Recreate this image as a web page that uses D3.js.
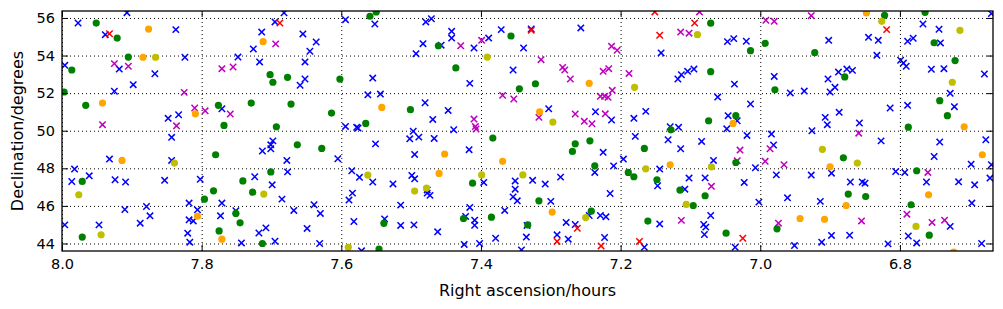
<!DOCTYPE html>
<html lang="en">
<head>
<meta charset="utf-8">
<title>D3: star field scatter</title>
<script src="https://d3js.org/d3.v7.min.js"></script>
<style>
  body { margin: 0; background: #fff; }
  text { font-family: "DejaVu Sans", sans-serif; }
  .grid line { stroke: #000; stroke-dasharray: 1,3; stroke-width: 1; }
  .grid path { display: none; }
</style>
</head>
<body>
<script>
// each series: [right ascension (hours), declination (degrees)]
var blueStars = [
  [7.907,56.28],[7.977,55.73],[7.938,55.11],[7.837,55.38],[7.824,53.91],[7.996,53.48],[7.918,53.28],[7.867,53.03],
  [7.898,52.45],[7.925,52.10],[7.833,50.85],[7.848,50.66],[7.682,56.27],[7.695,55.79],[7.594,55.91],[7.714,55.25],
  [7.655,55.15],[7.636,54.72],[7.726,54.35],[7.645,54.23],[7.748,53.92],[7.717,53.66],[7.652,53.66],[7.652,52.75],
  [7.659,52.42],[7.562,51.91],[7.771,51.17],[7.594,50.23],[7.578,50.18],[7.576,50.14],[7.552,55.68],[7.479,55.79],
  [7.471,55.96],[7.442,55.29],[7.442,54.93],[7.483,54.63],[7.457,54.55],[7.410,54.40],[7.493,54.10],[7.389,54.93],
  [7.371,55.38],[7.339,54.40],[7.354,53.23],[7.555,52.80],[7.416,52.52],[7.544,51.95],[7.480,51.49],[7.447,51.08],
  [7.469,50.60],[7.439,50.05],[7.328,55.41],[7.257,55.47],[7.142,54.14],[7.113,52.98],[7.118,52.75],[7.303,51.17],
  [7.236,51.01],[7.213,50.57],[7.181,50.66],[7.164,51.03],[7.129,50.21],[7.117,50.18],[7.047,54.74],[7.038,54.90],
  [7.020,54.76],[6.902,54.81],[7.104,53.16],[7.095,53.28],[7.037,52.48],[6.980,52.89],[6.957,52.01],[6.937,52.11],
  [6.903,52.75],[6.893,52.31],[6.900,52.06],[7.061,51.79],[7.014,51.42],[7.046,50.80],[7.033,50.53],[7.048,50.10],
  [6.907,50.71],[6.904,50.32],[6.767,55.68],[6.744,55.40],[6.669,56.23],[6.845,54.97],[6.831,54.81],[6.789,54.76],
  [6.781,54.92],[6.742,54.67],[6.833,54.01],[6.799,53.75],[6.795,53.60],[6.791,53.43],[6.888,53.12],[6.876,53.28],
  [6.868,53.21],[6.755,53.27],[6.737,53.30],[6.679,53.02],[6.728,51.99],[6.722,51.28],[6.887,50.98],[6.814,51.21],
  [6.789,51.35],[6.858,50.41],[7.982,47.96],[7.986,47.30],[7.961,47.60],[7.932,48.49],[7.843,49.65],[7.843,48.42],
  [7.924,47.39],[7.909,47.27],[7.853,47.36],[7.802,47.42],[7.818,46.15],[7.806,45.79],[7.818,45.26],[7.812,45.20],
  [7.820,44.55],[7.817,44.07],[7.910,45.81],[7.879,45.97],[7.874,45.47],[7.888,45.08],[7.996,44.99],[7.947,44.99],
  [7.698,49.46],[7.701,49.25],[7.701,49.04],[7.713,48.92],[7.678,48.42],[7.605,48.51],[7.677,47.81],[7.724,47.55],
  [7.699,47.12],[7.685,46.36],[7.771,46.15],[7.751,45.74],[7.773,45.47],[7.668,45.76],[7.639,46.06],[7.630,45.60],
  [7.649,44.80],[7.708,44.83],[7.718,44.56],[7.743,44.03],[7.695,44.12],[7.631,44.00],[7.585,47.87],[7.574,47.52],
  [7.584,46.68],[7.589,46.31],[7.582,45.17],[7.571,43.61],[7.551,49.30],[7.497,49.97],[7.502,49.57],[7.489,49.66],
  [7.467,49.59],[7.495,48.74],[7.417,48.99],[7.555,47.27],[7.526,47.17],[7.499,47.62],[7.495,47.44],[7.396,47.25],
  [7.477,46.85],[7.477,46.68],[7.473,46.56],[7.351,47.33],[7.351,46.89],[7.354,46.48],[7.348,46.27],[7.515,46.04],
  [7.538,45.31],[7.515,44.96],[7.496,44.99],[7.462,44.62],[7.416,45.92],[7.422,45.44],[7.409,45.24],[7.409,44.97],
  [7.366,45.76],[7.379,44.28],[7.424,43.95],[7.402,44.00],[7.335,44.34],[7.342,43.66],[7.225,48.85],[7.210,48.13],
  [7.237,47.78],[7.196,48.49],[7.179,49.70],[7.132,49.52],[7.114,49.04],[7.326,47.36],[7.308,47.16],[7.286,47.53],
  [7.144,47.96],[7.147,47.07],[7.215,46.66],[7.300,46.24],[7.245,45.49],[7.229,45.49],[7.221,45.42],[7.144,45.04],
  [7.334,44.96],[7.278,45.12],[7.265,45.01],[7.291,44.46],[7.275,44.23],[7.223,44.32],[7.166,43.80],[7.019,49.75],
  [6.984,49.82],[6.926,50.00],[7.084,49.43],[6.981,49.24],[7.067,48.42],[7.007,48.03],[6.898,47.74],[6.977,47.65],
  [6.927,47.64],[7.102,47.48],[7.079,47.49],[7.108,46.89],[7.023,47.25],[7.002,46.20],[6.961,46.43],[6.914,46.24],
  [7.071,45.49],[7.081,45.01],[7.078,44.87],[7.080,44.48],[7.036,43.80],[6.898,44.43],[6.912,44.07],[6.951,43.89],
  [6.827,49.46],[6.743,49.40],[6.677,49.52],[6.751,48.63],[6.698,48.22],[6.669,48.19],[6.806,47.83],[6.793,47.78],
  [6.871,47.27],[6.854,47.27],[6.850,47.21],[6.762,47.27],[6.716,47.28],[6.693,47.12],[6.671,47.48],[6.697,46.15],
  [6.728,44.91],[6.872,44.44],[6.788,44.40],[6.776,44.03],[6.817,43.98],[6.683,44.00]
];
var redStars = [
  [7.932,55.16],[7.688,55.73],[7.328,55.35],[7.151,56.32],[7.144,55.08],[7.094,55.73],[6.819,55.38],
  [7.262,44.81],[7.291,44.11],[7.228,43.87],[7.173,44.11],[7.025,44.28]
];
var magentaStars = [
  [7.925,53.57],[7.905,53.43],[7.825,52.04],[7.810,51.21],[7.795,51.06],[7.942,50.32],[7.836,50.26],[7.771,53.30],
  [7.755,53.39],[7.694,54.62],[7.759,50.89],[7.429,54.52],[7.399,54.81],[7.369,51.88],[7.353,51.69],[7.410,50.62],
  [7.408,50.22],[7.407,50.09],[7.314,53.78],[7.283,53.37],[7.280,53.23],[7.272,52.75],[7.213,54.49],[7.205,54.28],
  [7.225,53.16],[7.217,53.30],[7.212,52.15],[7.229,51.83],[7.223,51.83],[7.218,51.78],[7.188,53.05],[7.114,55.25],
  [7.317,50.71],[7.265,50.89],[7.252,50.50],[7.241,50.37],[7.222,50.90],[7.087,56.32],[7.102,55.19],[6.992,55.88],
  [6.980,55.82],[6.927,56.12],[7.113,45.23],[7.029,48.97],[6.986,49.04],[7.033,48.40],[6.993,48.37],[6.966,48.19],
  [7.070,47.04],[6.974,45.08],[6.859,49.87],[6.760,47.78],[6.790,45.56],[6.855,45.20],[6.754,45.12],[6.736,45.24]
];
var greenStars = [
  [7.951,55.73],[7.921,54.93],[7.905,53.92],[7.986,53.23],[7.997,52.06],[7.966,51.35],[7.559,56.09],[7.550,56.32],
  [7.702,52.98],[7.698,52.58],[7.677,52.84],[7.602,52.75],[7.776,51.35],[7.729,51.47],[7.672,51.42],[7.614,50.94],
  [7.768,50.28],[7.693,50.21],[7.565,50.39],[7.461,54.52],[7.357,55.04],[7.436,53.34],[7.345,52.23],[7.501,51.12],
  [7.322,52.50],[7.071,55.72],[7.014,54.26],[6.993,54.65],[6.922,54.15],[7.071,53.14],[6.979,52.18],[7.074,50.53],
  [7.035,50.80],[6.822,56.14],[6.764,56.30],[6.751,54.68],[6.721,53.73],[6.879,52.86],[6.743,51.60],[6.732,50.80],
  [6.788,50.19],[7.971,47.30],[7.780,48.72],[7.783,46.80],[7.796,46.36],[7.971,44.34],[7.663,49.25],[7.628,49.06],
  [7.701,47.81],[7.741,47.33],[7.727,46.73],[7.751,45.60],[7.745,45.10],[7.775,44.67],[7.713,44.00],[7.383,49.61],
  [7.412,47.21],[7.539,45.07],[7.425,45.33],[7.385,45.40],[7.546,43.70],[7.128,50.05],[7.265,49.30],[7.244,49.46],
  [7.269,48.90],[7.237,48.13],[7.166,49.06],[7.189,47.78],[7.181,47.55],[7.148,47.39],[7.115,46.84],[7.317,46.27],
  [7.242,45.72],[7.161,45.19],[7.333,44.99],[7.035,48.31],[7.079,46.54],[7.096,46.02],[7.049,44.55],[6.976,44.78],
  [6.881,48.56],[6.776,47.87],[6.874,46.63],[6.849,46.50],[6.784,46.06],[6.758,44.44]
];
var oliveStars = [
  [7.866,53.91],[7.391,53.92],[7.180,52.31],[7.297,50.46],[7.090,55.11],[6.826,55.82],[6.714,55.34],[6.725,52.58],
  [7.976,46.59],[7.839,48.28],[7.944,44.46],[7.711,46.63],[7.562,47.64],[7.590,43.80],[7.399,47.65],[7.495,46.79],
  [7.478,46.95],[7.340,47.65],[7.164,47.97],[7.250,45.38],[6.911,49.01],[7.070,48.08],[7.106,46.08],[6.861,48.28],
  [6.777,44.91]
];
var orangeStars = [
  [7.876,55.41],[7.884,53.91],[7.942,51.47],[7.809,50.90],[7.712,54.74],[7.542,51.24],[7.245,52.52],[7.316,51.01],
  [7.039,50.39],[6.848,56.27],[6.708,50.21],[7.914,48.42],[7.806,45.45],[7.771,44.23],[7.452,48.76],[7.369,48.37],
  [7.460,47.73],[7.129,48.19],[7.298,45.67],[6.900,48.08],[6.943,45.33],[6.908,45.29],[6.682,48.72],[6.759,46.59],
  [6.877,46.02],[6.723,43.54]
];
var xTicks = [8.0, 7.8, 7.6, 7.4, 7.2, 7.0, 6.8];
var yTicks = [44, 46, 48, 50, 52, 54, 56];

var margin = {top: 11, right: 10, bottom: 58, left: 62},
    width = 1003 - margin.left - margin.right,
    height = 309 - margin.top - margin.bottom;

var svg = d3.select("body").append("svg")
    .attr("width", 1003)
    .attr("height", 309)
  .append("g")
    .attr("transform", "translate(" + margin.left + "," + margin.top + ")");

var x = d3.scaleLinear().domain([8.0, 6.6667]).range([0, width]);
var y = d3.scaleLinear().domain([43.6, 56.37]).range([height, 0]);

svg.append("clipPath").attr("id", "plotclip")
  .append("rect").attr("width", width).attr("height", height);

// dotted grid
svg.append("g").attr("class", "grid")
    .attr("transform", "translate(0," + height + ")")
    .call(d3.axisBottom(x).tickValues(xTicks).tickSize(-height).tickFormat(""));
svg.append("g").attr("class", "grid")
    .call(d3.axisLeft(y).tickValues(yTicks).tickSize(-width).tickFormat(""));

// points
var plot = svg.append("g").attr("clip-path", "url(#plotclip)");

function crosses(data, color) {
  plot.append("g").selectAll("path").data(data).enter().append("path")
    .attr("d", function(d) {
      var cx = x(d[0]), cy = y(d[1]), s = 3.2;
      return "M" + (cx - s) + "," + (cy - s) + "L" + (cx + s) + "," + (cy + s) +
             "M" + (cx - s) + "," + (cy + s) + "L" + (cx + s) + "," + (cy - s);
    })
    .attr("stroke", color)
    .attr("stroke-width", 1.5)
    .attr("fill", "none");
}
function dots(data, color) {
  plot.append("g").selectAll("circle").data(data).enter().append("circle")
    .attr("cx", function(d) { return x(d[0]); })
    .attr("cy", function(d) { return y(d[1]); })
    .attr("r", 3.6)
    .attr("fill", color);
}
crosses(blueStars, "#0000ff");
crosses(redStars, "#ff0000");
crosses(magentaStars, "#bf00bf");
dots(greenStars, "#008000");
dots(oliveStars, "#bfbf00");
dots(orangeStars, "#ffa500");

// axes, ticks pointing inward on all four sides
var fmtX = d3.format(".1f");
var bottomAxis = svg.append("g")
    .attr("transform", "translate(0," + height + ")")
    .call(d3.axisBottom(x).tickValues(xTicks).tickSize(-6).tickPadding(8).tickFormat(fmtX));
var leftAxis = svg.append("g")
    .call(d3.axisLeft(y).tickValues(yTicks).tickSize(-6).tickPadding(7));
var topAxis = svg.append("g")
    .call(d3.axisTop(x).tickValues(xTicks).tickSize(-6).tickFormat(""));
var rightAxis = svg.append("g")
    .attr("transform", "translate(" + width + ",0)")
    .call(d3.axisRight(y).tickValues(yTicks).tickSize(-6).tickFormat(""));

[bottomAxis, leftAxis, topAxis, rightAxis].forEach(function(a) {
  a.select(".domain").remove();
  a.selectAll("line").attr("stroke", "#000").attr("stroke-width", 1);
  a.selectAll("text").attr("fill", "#000").style("font-size", "14.5px")
    .style("font-family", "'DejaVu Sans', sans-serif");
});

// frame
svg.append("rect")
    .attr("width", width).attr("height", height)
    .attr("fill", "none").attr("stroke", "#000").attr("stroke-width", 1.3);

// axis titles
svg.append("text")
    .attr("x", width / 2)
    .attr("y", height + 45)
    .attr("text-anchor", "middle")
    .style("font-size", "16px")
    .text("Right ascension/hours");

svg.append("text")
    .attr("transform", "rotate(-90)")
    .attr("x", -height / 2)
    .attr("y", -39)
    .attr("text-anchor", "middle")
    .style("font-size", "16px")
    .text("Declination/degrees");
</script>
</body>
</html>
